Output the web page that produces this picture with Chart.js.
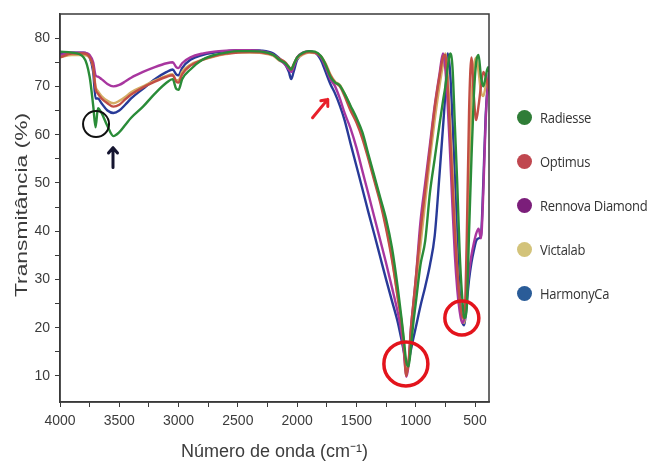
<!DOCTYPE html>
<html>
<head>
<meta charset="utf-8">
<script src="https://cdn.jsdelivr.net/npm/chart.js@4.4.1/dist/chart.umd.min.js"></script>
<style>
  html, body { margin: 0; padding: 0; background: #fff; }
  #wrap { position: relative; width: 653px; height: 463px; }
  #legend { position: absolute; left: 517px; top: 106px; font-family: "Open Sans", sans-serif; font-size: 13px; letter-spacing: -0.3px; color: #333; }
  .item { display: flex; align-items: center; height: 22px; margin-bottom: 22px; white-space: nowrap; }
  .dot { width: 15px; height: 15px; border-radius: 50%; margin-right: 8px; }
  .label { display: inline-block; transform: scaleY(1.12); }
</style>
</head>
<body>
<div id="wrap">
  <canvas id="chart" width="653" height="463"></canvas>
  <div id="legend"></div>
</div>
<script>
// wavenumber grid (cm-1), shared by all spectra
const wavenumbers = [
  4000, 3900, 3800, 3750, 3720, 3700, 3680, 3650, 3600, 3550,
  3500, 3450, 3400, 3300, 3200, 3100, 3050, 3020, 3000, 2970,
  2900, 2800, 2700, 2600, 2500, 2400, 2300, 2200, 2150, 2100,
  2070, 2050, 2030, 2000, 1950, 1900, 1850, 1800, 1760, 1720,
  1680, 1640, 1600, 1550, 1500, 1450, 1400, 1350, 1300, 1250,
  1200, 1150, 1120, 1100, 1080, 1060, 1040, 1020, 1000, 960,
  920, 880, 840, 800, 770, 750, 730, 710, 690, 670,
  650, 630, 610, 590, 570, 550, 530, 510, 490, 470,
  450, 430, 410, 390, 380
];

// transmittance (%)
const radiesse = [
  77.2, 77, 76, 72, 66, 61.5, 65.5, 64.5, 61.8, 59.7,
  60.5, 62, 63.5, 65.8, 68.5, 70.8, 71.5, 69.5, 69.3, 71.5,
  73.5, 75.5, 76.5, 77, 77.3, 77.3, 77.2, 76.5, 75.5, 74.8,
  74, 73.5, 74.5, 76, 77, 77.3, 77.2, 76.3, 74.5, 72,
  70.8, 70.2, 68.5, 66, 63.5, 60.5, 56, 51.5, 47, 42.5,
  36.5, 28, 22, 17.5, 13, 12, 16, 21, 25, 33,
  38, 48, 55, 62, 67, 70, 74, 76.8, 74, 62,
  50, 36, 27, 22, 24, 40, 55, 68, 75, 76.5,
  72, 70, 72, 74, 73
];
const optimus = [
  76, 76.8, 76.8, 76, 74, 69.5, 68.5, 67.5, 66.5, 65.8,
  66.2, 67.3, 68.3, 69.8, 71, 72, 72.3, 71, 70.8, 72.5,
  74.3, 75.5, 76.3, 76.8, 77, 77.1, 77, 76.5, 75.7, 75,
  74, 73.5, 74.5, 76, 76.8, 77.1, 77, 76.2, 74.5, 72.3,
  70.8, 70, 68, 65, 62.5, 59.2, 55, 50.5, 46, 40.5,
  34, 26, 21, 16, 10, 13, 20, 25, 30, 40,
  48.5, 57, 65.5, 72, 76, 76.5, 70, 60, 50, 40,
  32, 26, 22.5, 22, 38, 65, 76, 68, 63, 66,
  70, 73, 72, 70, 69
];
const rennova = [
  76.5, 77, 77, 76.5, 75, 72.3, 72, 71.5, 70.5, 70,
  70.3, 71, 71.8, 73, 74, 74.8, 75, 74, 73.8, 74.8,
  76, 76.8, 77.2, 77.4, 77.5, 77.5, 77.3, 76.5, 75.5, 74.5,
  73.5, 73, 74, 76, 77, 77.3, 77, 76, 74, 71.5,
  70, 67.5, 64.5, 61.3, 57.3, 52.5, 47.8, 43, 38.2, 33.4,
  28.3, 23, 19, 15, 9.8, 12.5, 20, 25, 30, 42,
  50, 58, 66, 72.5, 76.8, 73.5, 66, 56, 45, 35,
  28, 23.5, 21, 22, 27, 31.5, 35, 37.5, 39.5, 40.5,
  38.5, 48, 63, 71, 73
];
const victalab = [
  76, 76.5, 76.5, 76, 74, 70, 69, 68, 67, 66.5,
  67, 67.8, 68.8, 70, 71.2, 72.2, 72.5, 71.3, 71.3, 73,
  74.5, 75.5, 76.2, 76.7, 77, 77, 76.9, 76.3, 75.3, 74.8,
  74, 73.5, 74.5, 75.8, 76.6, 77, 76.9, 76.3, 74.8, 72.5,
  71, 70.3, 68.5, 65.8, 63, 60, 55.5, 51, 46.5, 41,
  34.5, 26, 21.5, 17, 11, 12.5, 19, 24, 28, 37,
  46, 55, 63, 70, 74.5, 76.8, 72, 63, 53, 42,
  32, 25.5, 22, 21, 30, 52, 67, 74, 76, 73,
  69, 68, 70, 72, 71
];
const harmonyCa = [
  76.8, 77, 77, 76, 73, 67.5, 67.5, 66.5, 65, 64.5,
  65, 66.2, 67.5, 69.5, 71.5, 73, 73.5, 72.5, 72.3, 73.8,
  75.5, 76.5, 77, 77.3, 77.5, 77.5, 77.4, 76.8, 75.8, 74.5,
  73, 71.5, 73, 75.5, 76.8, 77.2, 77, 75.5, 73, 70.5,
  68.5, 66, 63, 58.2, 53.5, 48.8, 44, 39.4, 34.7, 30,
  25.5, 21, 17.5, 15, 12.3, 13, 15.5, 17.8, 20, 24.5,
  28.5, 33, 39, 51.5, 61.5, 68.5, 76.8, 73, 63, 51,
  38, 27.5, 21.5, 20.5, 25, 30, 33.5, 36, 38, 38.5,
  39, 50, 64, 71, 73
];

const seriesNames = ['Radiesse', 'Optimus', 'Rennova Diamond', 'Victalab', 'HarmonyCa'];
const seriesValues = [radiesse, optimus, rennova, victalab, harmonyCa];
const lineColors = ['#2a8c38', '#c24e44', '#a8369f', '#d4ae66', '#283a98'];
const legendColors = ['#2f7d37', '#c0474f', '#7b1e7a', '#d3c37a', '#2a5c98'];

const xTicks = [500, 750, 1000, 1250, 1500, 1750, 2000, 2250, 2500, 2750, 3000, 3250, 3500, 3750, 4000];
const yTicks = [10, 15, 20, 25, 30, 35, 40, 45, 50, 55, 60, 65, 70, 75, 80];
const yTitle = 'Transmitância (%)';

// annotation marks, in data coordinates
const markCircles = [
  { x: 3696, y: 62.2, r: 13, color: '#111', width: 2 },
  { x: 1083, y: 12.5, r: 22, color: '#e3141c', width: 3.5 },
  { x: 611, y: 22, r: 17, color: '#e3141c', width: 3.5 }
];
const markArrows = [
  { from: [3553, 53.2], to: [3553, 57.3], color: '#151530' },
  { from: [1870, 63.5], to: [1742, 67.3], color: '#e8202a' }
];

const marksPlugin = {
  id: 'marks',
  afterDraw(chart) {
    const { ctx, chartArea: a, scales: { x, y } } = chart;
    ctx.save();
    // frame round the plot
    ctx.strokeStyle = '#3a3a3a';
    ctx.lineWidth = 1.5;
    ctx.strokeRect(a.left, a.top, a.right - a.left, a.bottom - a.top);

    // y title, drawn stretched along its length like the original
    ctx.save();
    ctx.translate(27, 205);
    ctx.rotate(-Math.PI / 2);
    ctx.scale(1.34, 1);
    ctx.font = '17px "Liberation Sans", Arial, sans-serif';
    ctx.fillStyle = '#3c3c3c';
    ctx.textAlign = 'center';
    ctx.textBaseline = 'alphabetic';
    ctx.fillText(yTitle, 0, 0);
    ctx.restore();

    markCircles.forEach(c => {
      ctx.beginPath();
      ctx.arc(x.getPixelForValue(c.x), y.getPixelForValue(c.y), c.r, 0, Math.PI * 2);
      ctx.strokeStyle = c.color;
      ctx.lineWidth = c.width;
      ctx.stroke();
    });

    markArrows.forEach(m => {
      const x0 = x.getPixelForValue(m.from[0]), y0 = y.getPixelForValue(m.from[1]);
      const x1 = x.getPixelForValue(m.to[0]), y1 = y.getPixelForValue(m.to[1]);
      const ang = Math.atan2(y1 - y0, x1 - x0);
      const h = 7;
      ctx.strokeStyle = m.color;
      ctx.lineWidth = 3;
      ctx.lineCap = 'round';
      ctx.lineJoin = 'round';
      ctx.beginPath();
      ctx.moveTo(x0, y0);
      ctx.lineTo(x1, y1);
      ctx.moveTo(x1 - h * Math.cos(ang - 0.7), y1 - h * Math.sin(ang - 0.7));
      ctx.lineTo(x1, y1);
      ctx.lineTo(x1 - h * Math.cos(ang + 0.7), y1 - h * Math.sin(ang + 0.7));
      ctx.stroke();
    });
    ctx.restore();
  }
};

const datasets = seriesNames.map((name, i) => ({
  label: name,
  data: wavenumbers.map((w, j) => ({ x: w, y: seriesValues[i][j] })),
  borderColor: lineColors[i],
  borderWidth: 2.4,
  pointRadius: 0,
  fill: false,
  cubicInterpolationMode: 'monotone'
}));

const tickFont = { family: '"Liberation Sans", Arial, sans-serif', size: 14 };
const titleFont = { family: '"Liberation Sans", Arial, sans-serif', size: 18 };

new Chart(document.getElementById('chart'), {
  type: 'line',
  data: { datasets },
  options: {
    responsive: false,
    animation: false,
    devicePixelRatio: 1,
    layout: { padding: { top: 14, right: 164, left: 0, bottom: 0 } },
    plugins: { legend: { display: false }, tooltip: { enabled: false } },
    scales: {
      x: {
        type: 'linear',
        reverse: true,
        min: 382,
        max: 4000,
        afterBuildTicks: s => { s.ticks = xTicks.map(v => ({ value: v })); },
        afterFit: s => { s.height = 61; },
        ticks: {
          autoSkip: false,
          maxRotation: 0,
          padding: 6,
          color: '#3c3c3c',
          font: tickFont,
          callback: v => (v % 500 === 0 ? v : '')
        },
        grid: { drawOnChartArea: false, drawTicks: true, tickLength: 5, color: '#3a3a3a' },
        border: { color: '#3a3a3a', width: 1.5 },
        title: { display: true, text: 'Número de onda (cm⁻¹)', color: '#3c3c3c', font: titleFont, padding: { top: 0, bottom: 0 } }
      },
      y: {
        min: 4.6,
        max: 85,
        afterBuildTicks: s => { s.ticks = yTicks.map(v => ({ value: v })); },
        afterFit: s => { s.width = 60; },
        ticks: {
          padding: 5,
          color: '#3c3c3c',
          font: tickFont,
          callback: v => (v % 10 === 0 ? v : '')
        },
        grid: { drawOnChartArea: false, drawTicks: true, tickLength: 5, color: '#3a3a3a' },
        border: { color: '#3a3a3a', width: 1.5 },
        title: { display: false }
      }
    }
  },
  plugins: [marksPlugin]
});

// legend beside the plot
const legend = document.getElementById('legend');
seriesNames.forEach((name, i) => {
  const item = document.createElement('div');
  item.className = 'item';
  item.innerHTML = `<span class="dot" style="background:${legendColors[i]}"></span><span class="label">${name}</span>`;
  legend.appendChild(item);
});
</script>
</body>
</html>
